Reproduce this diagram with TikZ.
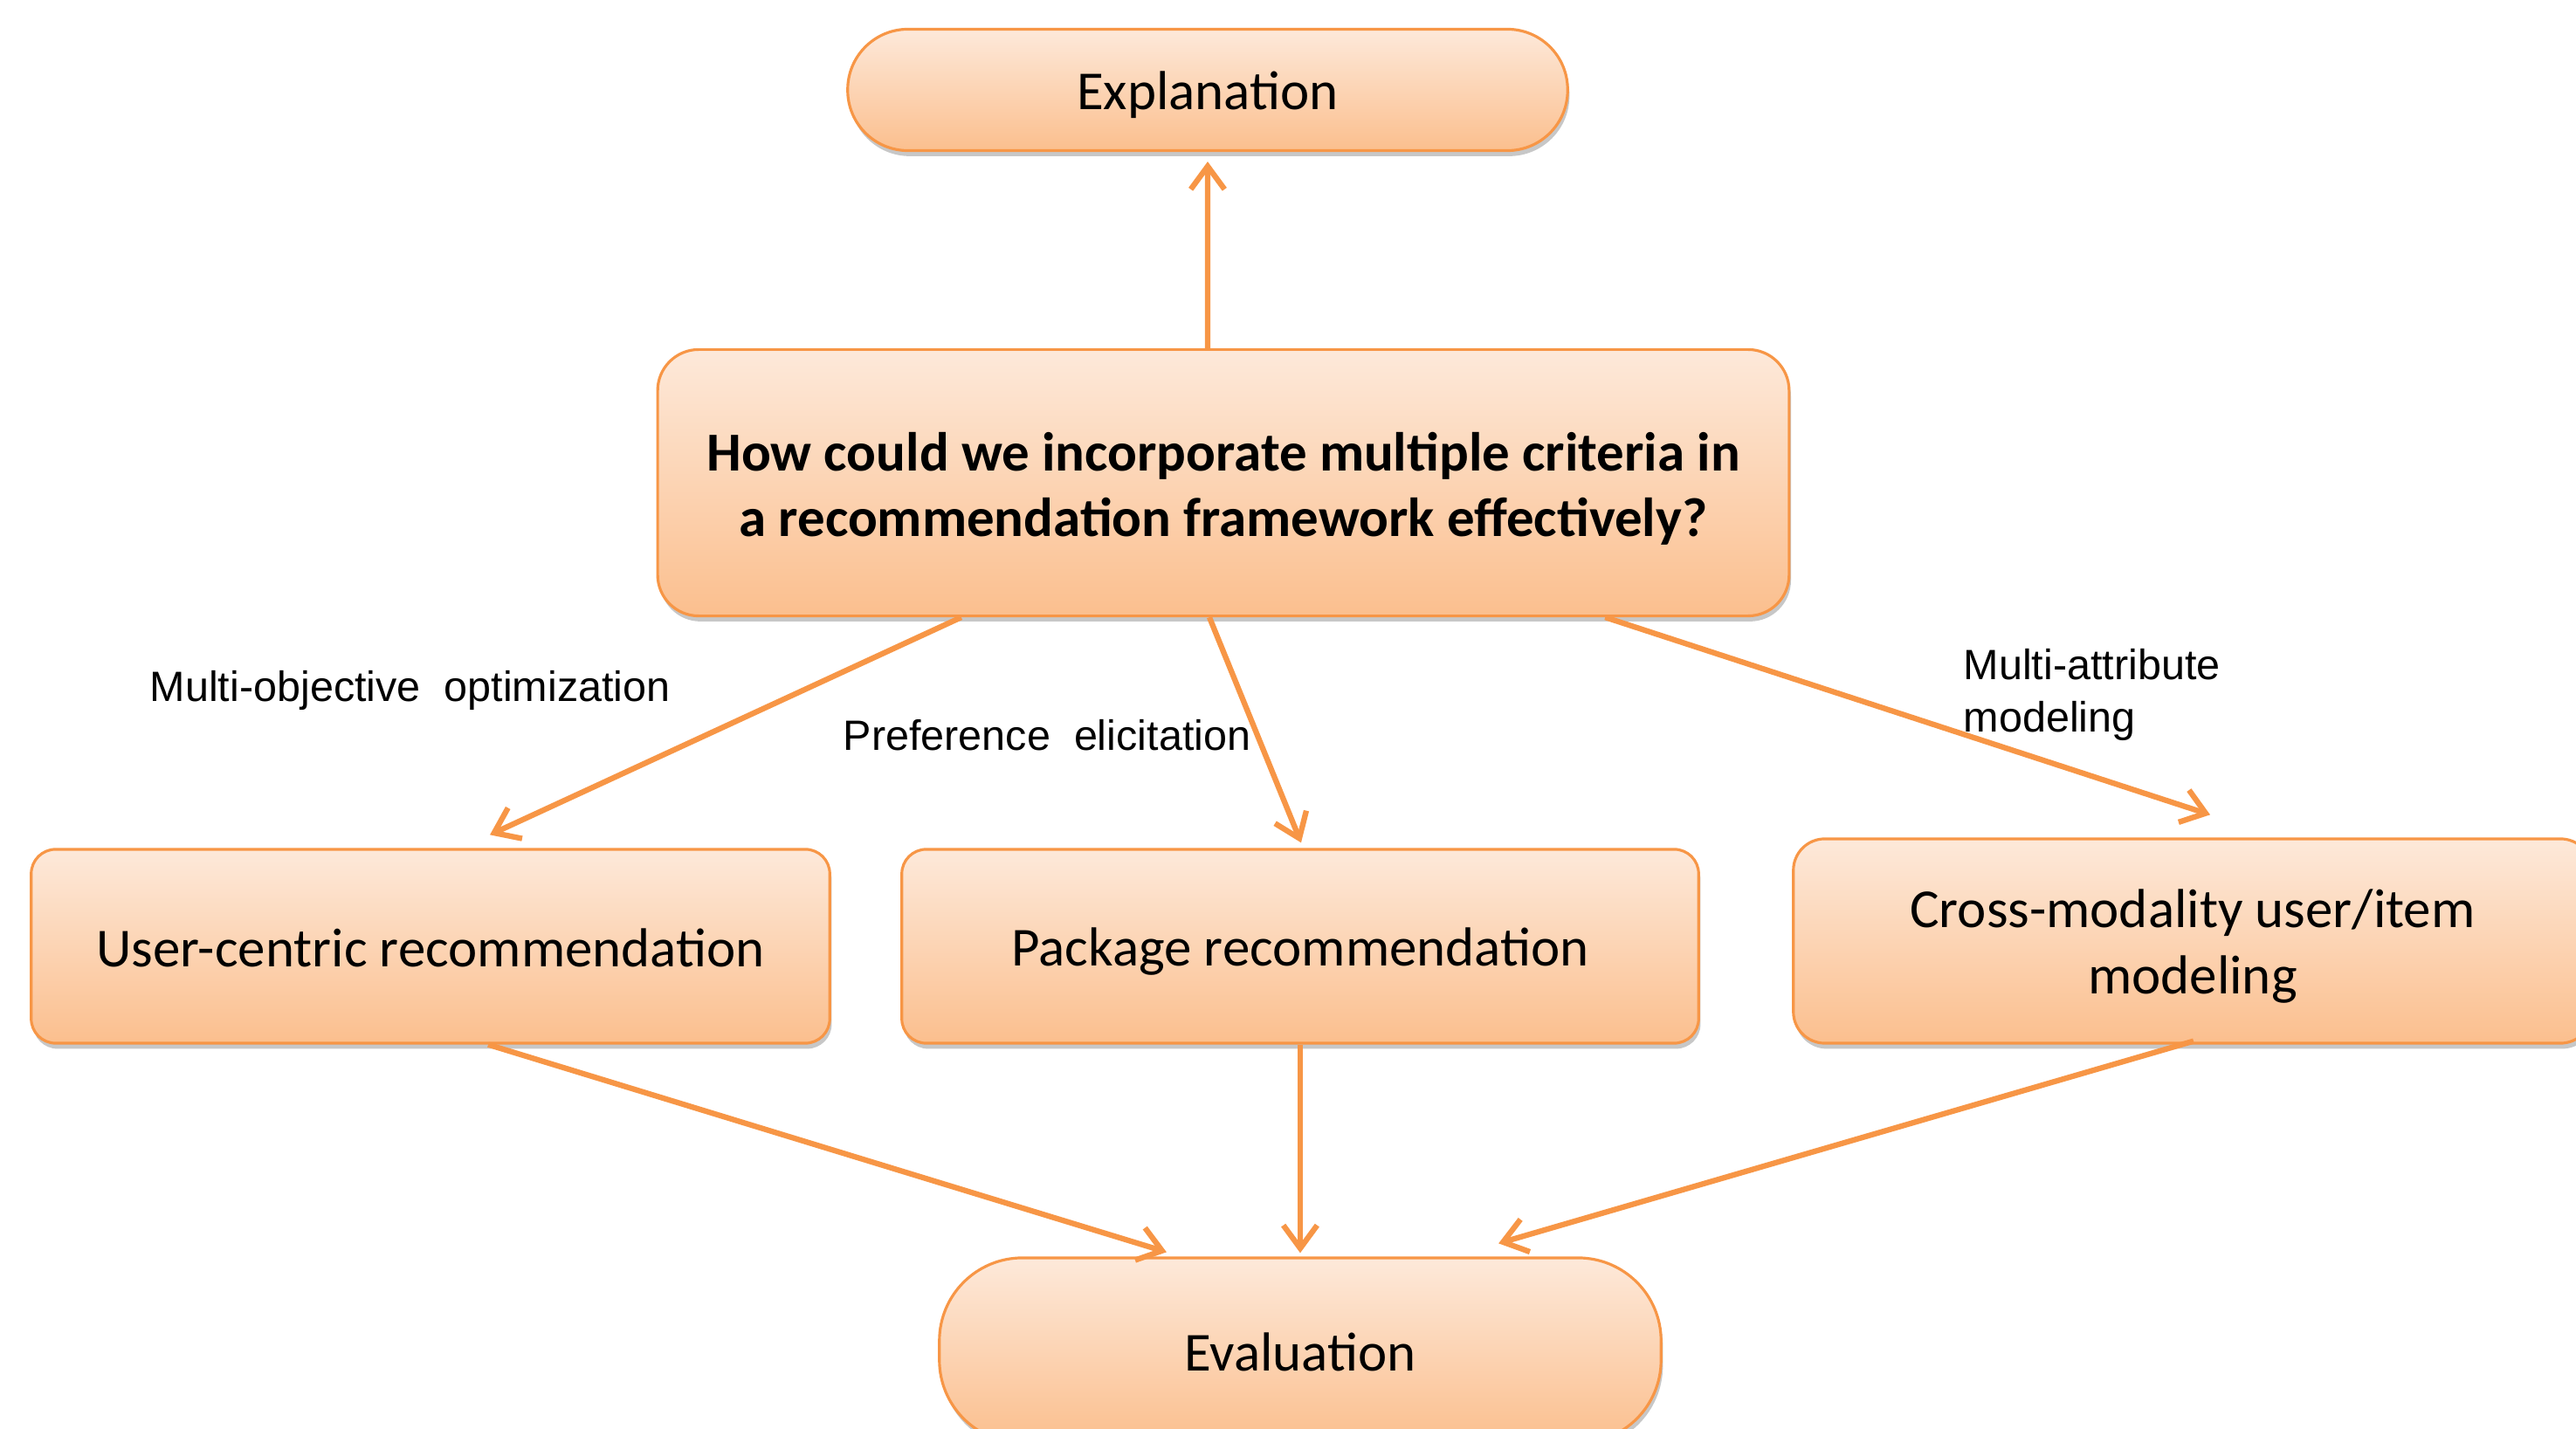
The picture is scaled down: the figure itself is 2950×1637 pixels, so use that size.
\documentclass[tikz,border=0pt]{standalone}
\usepackage{fontspec}
\setmainfont{Carlito}
\newfontfamily\arialf{Liberation Sans}
\usetikzlibrary{arrows.meta,shadows,calc}
\definecolor{orgline}{HTML}{F79646}
\definecolor{orgtop}{HTML}{FDE9DA}
\definecolor{orgbot}{HTML}{FBBF8E}
\tikzset{
  box/.style={draw=orgline, line width=0.9pt, top color=orgtop, bottom color=orgbot,
    inner sep=0pt,
    drop shadow={shadow xshift=0.6pt, shadow yshift=-1.8pt, opacity=0.22, fill=black}},
  txt/.style={align=center, inner sep=0pt, font=\fontsize{17.9}{21.5}\selectfont},
  conn/.style={draw=orgline, line width=1.8pt, -{Straight Barb[length=7.5pt,width=11pt,line width=1.8pt]}},
  lbl/.style={font=\arialf\fontsize{13.8}{17}\selectfont, inner sep=0pt, anchor=west, align=left}
}
\begin{document}
\begin{tikzpicture}[x=0.01cm,y=-0.01cm]
\useasboundingbox (0,0) rectangle (2950,1637);
\clip (0,0) rectangle (2950,1637);
\node[box, rounded corners=0.69cm, minimum width=8.24cm, minimum height=1.39cm] (expl) at (1383,103) {};
\node[txt] (explt) at ([yshift=-0.06cm]expl.center) {Explanation};
\node[box, rounded corners=0.47cm, minimum width=12.95cm, minimum height=3.05cm] (main) at (1401,553) {};
\node[txt, font=\bfseries\fontsize{17.9}{21.5}\selectfont] (maint) at ([yshift=-0.07cm]main.center) {How could we incorporate multiple criteria in\\a recommendation framework effectively?};
\node[box, rounded corners=0.28cm, minimum width=9.14cm, minimum height=2.22cm] (user) at (493,1084) {};
\node[txt] (usert) at ([yshift=-0.02cm]user.center) {User-centric recommendation};
\node[box, rounded corners=0.28cm, minimum width=9.12cm, minimum height=2.22cm] (pack) at (1489,1084) {};
\node[txt] (packt) at ([yshift=-0.06cm]pack.center) {Package recommendation};
\node[box, rounded corners=0.36cm, minimum width=9.14cm, minimum height=2.34cm] (cross) at (2511,1078) {};
\node[txt] (crosst) at ([yshift=-0.06cm]cross.center) {Cross-modality user/item\\modeling};
\node[box, rounded corners=0.95cm, minimum width=8.26cm, minimum height=2.12cm] (eval) at (1489,1547) {};
\node[txt] (evalt) at ([yshift=-0.02cm]eval.center) {Evaluation};

\node[lbl] (l1) at (171,791) {Multi-objective\ \ optimization};
\node[lbl] (l2) at (965,842) {Preference\ \ elicitation};
\node[lbl] (l3) at (2248,796) {Multi-attribute\\modeling};

\draw[conn] ([xshift=-0.18cm]main.north) -- ([yshift=-0.11cm]expl.south);
\draw[conn] ([xshift=-3.00cm]main.south) -- ([xshift=0.68cm,yshift=0.15cm]user.north);
\draw[conn] ([xshift=-0.16cm]main.south) -- ([xshift=0.01cm,yshift=0.06cm]pack.north);
\draw[conn] ([xshift=4.37cm]main.south) -- ([xshift=0.20cm,yshift=0.26cm]cross.north);
\draw[conn] ([xshift=0.66cm]user.south) -- ([xshift=-1.53cm,yshift=0.05cm]eval.north);
\draw[conn] (pack.south) -- ([yshift=0.04cm]eval.north);
\draw[conn] ([xshift=0.01cm,yshift=0.04cm]cross.south) -- ([xshift=2.27cm,yshift=0.15cm]eval.north);
\end{tikzpicture}
\end{document}
